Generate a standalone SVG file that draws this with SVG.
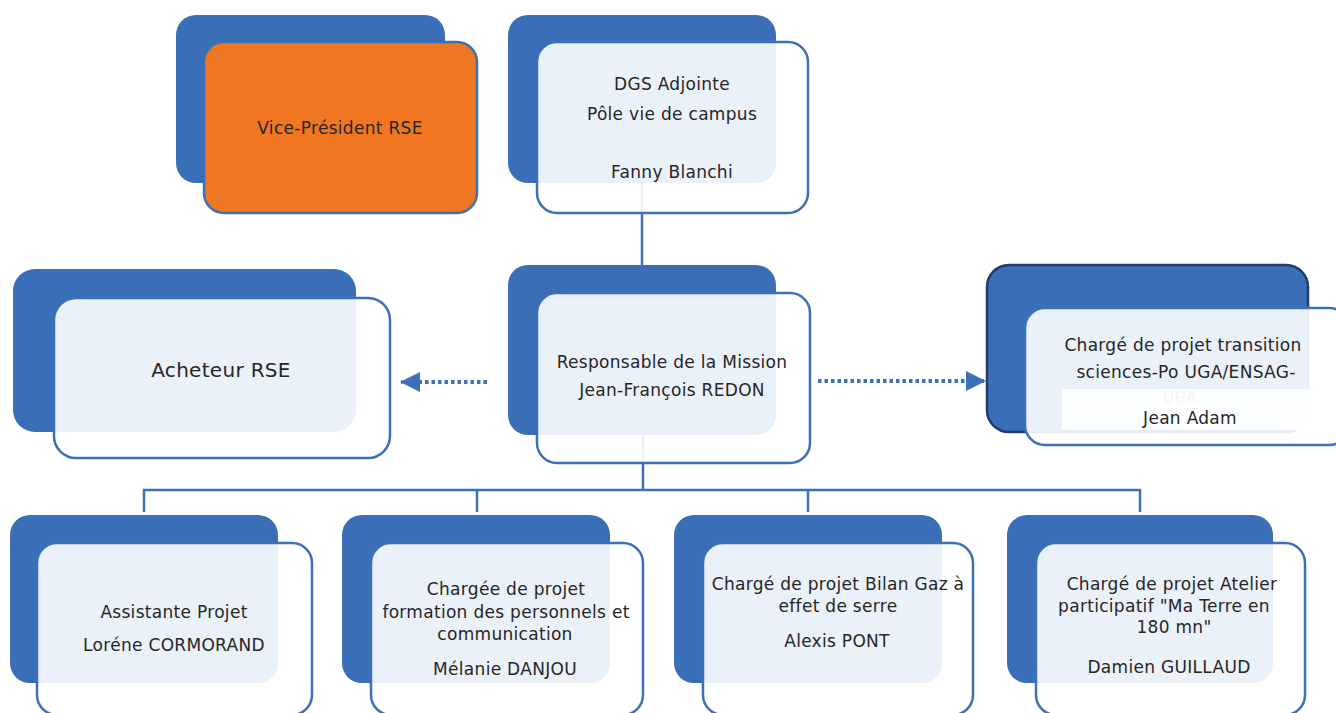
<svg xmlns="http://www.w3.org/2000/svg" width="1336" height="713" viewBox="0 0 1336 713">
<defs>
<style>
.back{fill:#3a6eb6;}
.front{fill:#ffffff;fill-opacity:0.9;stroke:#3c70b8;stroke-width:2.5;}
.orange{fill:#f07622;stroke:#3c70b8;stroke-width:2.5;}
.ln{fill:none;stroke:#3c70b8;stroke-width:2.5;}
.dot{fill:none;stroke:#3c70b8;stroke-width:4;stroke-dasharray:3.5 3;}
text{font-family:"DejaVu Sans","Liberation Sans",sans-serif;font-size:17px;letter-spacing:0.3px;fill:#262626;text-anchor:middle;}
</style>
<marker id="ah" viewBox="0 0 10 10" refX="9.5" refY="5" markerWidth="5" markerHeight="5" markerUnits="strokeWidth" orient="auto">
<path d="M0,0 L10,5 L0,10 Z" fill="#3c70b8"/>
</marker>
</defs>
<rect width="1336" height="713" fill="#ffffff"/>

<g id="connectors">
<line class="ln" x1="642" y1="183" x2="642" y2="266"/>
<line class="ln" x1="643" y1="435" x2="643" y2="490"/>
<polyline class="ln" points="144,512 144,490 1140,490 1140,512"/>
<line class="ln" x1="477" y1="490" x2="477" y2="512"/>
<line class="ln" x1="808" y1="490" x2="808" y2="512"/>
<line class="dot" x1="487" y1="382" x2="401" y2="382" marker-end="url(#ah)"/>
<line class="dot" x1="818" y1="381" x2="985" y2="381" marker-end="url(#ah)"/>
</g>

<g id="vice-president">
<rect class="back" x="176" y="15" width="269" height="168" rx="20"/>
<rect class="orange" x="204" y="42" width="273" height="171" rx="20"/>
<text x="340" y="134">Vice-Président RSE</text>
</g>

<g id="dgs">
<rect class="back" x="508" y="15" width="268" height="168" rx="20"/>
<rect class="front" x="537" y="42" width="271" height="171" rx="20"/>
<text x="672" y="90">DGS Adjointe</text>
<text x="672" y="120">Pôle vie de campus</text>
<text x="672" y="178">Fanny Blanchi</text>
</g>

<g id="acheteur">
<rect class="back" x="13" y="269" width="343" height="163" rx="22"/>
<rect class="front" x="54" y="298" width="336" height="160" rx="22"/>
<text x="221" y="377" style="font-size:20px">Acheteur RSE</text>
</g>

<g id="responsable">
<rect class="back" x="508" y="265" width="268" height="170" rx="20"/>
<rect class="front" x="537" y="293" width="273" height="170" rx="20"/>
<text x="672" y="368">Responsable de la Mission</text>
<text x="672" y="396">Jean-François REDON</text>
</g>

<g id="charge-transition">
<rect class="back" x="987" y="265" width="321" height="167" rx="22" style="stroke:#1f3d6e;stroke-width:2.5"/>
<rect class="front" x="1025" y="308" width="324" height="137" rx="20"/>
<text x="1183" y="351">Chargé de projet transition</text>
<text x="1186" y="378">sciences-Po UGA/ENSAG-</text>
<text x="1180" y="403" style="fill:#8a8a8a;font-size:15px">UGA</text>
<rect x="1062" y="389" width="274" height="41" fill="#ffffff" fill-opacity="0.9"/>
<text x="1190" y="424">Jean Adam</text>
</g>

<g id="assistante">
<rect class="back" x="10" y="515" width="268" height="168" rx="20"/>
<rect class="front" x="37" y="543" width="275" height="172" rx="20"/>
<text x="174" y="618">Assistante Projet</text>
<text x="174" y="651">Loréne CORMORAND</text>
</g>

<g id="chargee-formation">
<rect class="back" x="342" y="515" width="268" height="168" rx="20"/>
<rect class="front" x="371" y="543" width="272" height="172" rx="20"/>
<text x="506" y="595">Chargée de projet</text>
<text x="506" y="618">formation des personnels et</text>
<text x="505" y="640">communication</text>
<text x="505" y="675">Mélanie DANJOU</text>
</g>

<g id="charge-bilan">
<rect class="back" x="674" y="515" width="268" height="168" rx="20"/>
<rect class="front" x="703" y="543" width="270" height="172" rx="20"/>
<text x="838" y="590">Chargé de projet Bilan Gaz à</text>
<text x="838" y="612">effet de serre</text>
<text x="837" y="647">Alexis PONT</text>
</g>

<g id="charge-atelier">
<rect class="back" x="1007" y="515" width="266" height="168" rx="20"/>
<rect class="front" x="1036" y="543" width="269" height="172" rx="20"/>
<text x="1172" y="590">Chargé de projet Atelier</text>
<text x="1164" y="612">participatif "Ma Terre en</text>
<text x="1174" y="633">180 mn"</text>
<text x="1169" y="673">Damien GUILLAUD</text>
</g>
</svg>
